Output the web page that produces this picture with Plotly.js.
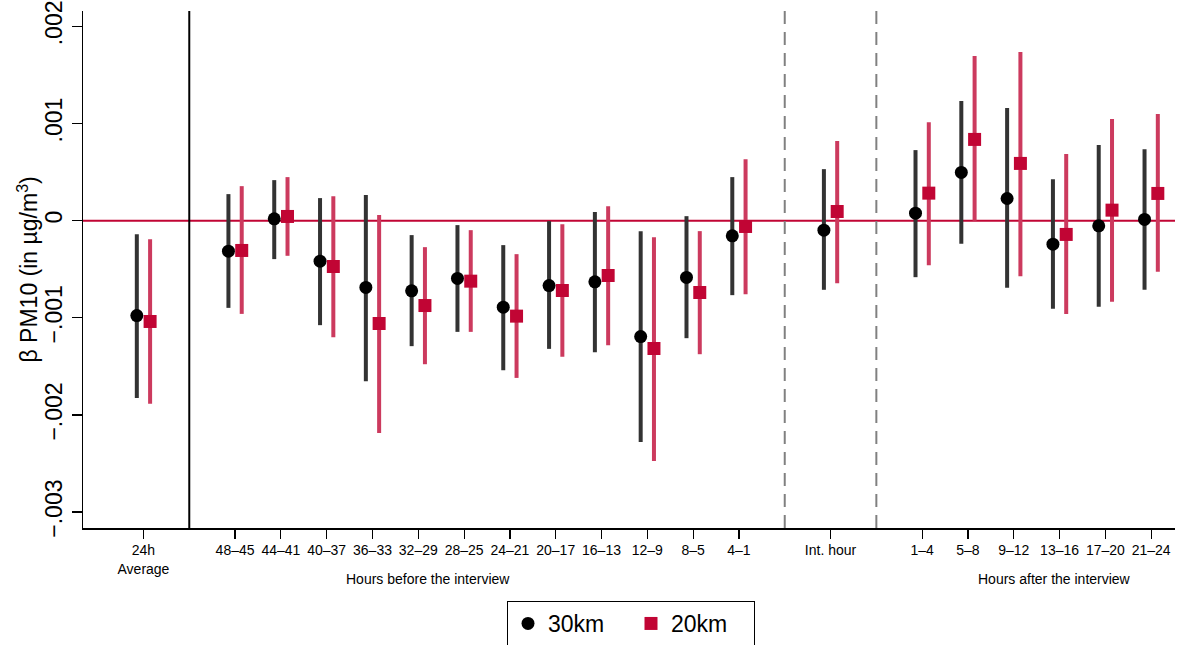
<!DOCTYPE html>
<html><head><meta charset="utf-8">
<script src="https://cdn.plot.ly/plotly-3.0.1.min.js"></script>
<style>html,body{margin:0;padding:0;background:#fff}#chart{width:1180px;height:645px}</style>
</head><body><div id="chart"></div>
<script>
// ---- data ----
const catAverage = ["24h<br>Average"];
const catBefore = ["48–45","44–41","40–37","36–33","32–29","28–25","24–21","20–17","16–13","12–9","8–5","4–1"];
const catInt = ["Int. hour"];
const catAfter = ["1–4","5–8","9–12","13–16","17–20","21–24"];

const est30 = [-0.000977,-0.000314,0.000019,-0.000417,-0.000688,-0.000723,-0.000595,-0.000891,-0.000668,-0.000630,-0.001193,-0.000585,-0.000156,-0.000098,0.000077,0.000496,0.000228,-0.000242,-0.000053,0.000012];
const lo30  = [-0.001825,-0.000898,-0.000396,-0.001076,-0.001653,-0.001292,-0.001145,-0.001540,-0.001320,-0.001354,-0.002278,-0.001210,-0.000767,-0.000712,-0.000582,-0.000239,-0.000692,-0.000908,-0.000887,-0.000712];
const hi30  = [-0.000139,0.000273,0.000417,0.000232,0.000263,-0.000149,-0.000046,-0.000252,-0.000005,0.000088,-0.000108,0.000046,0.000448,0.000530,0.000726,0.001231,0.001159,0.000427,0.000778,0.000736];

const est20 = [-0.001038,-0.000307,0.000043,-0.000472,-0.001059,-0.000874,-0.000623,-0.000983,-0.000719,-0.000565,-0.001316,-0.000740,-0.000060,0.000094,0.000283,0.000836,0.000589,-0.000142,0.000108,0.000280];
const lo20  = [-0.001886,-0.000960,-0.000362,-0.001200,-0.002185,-0.001478,-0.001145,-0.001619,-0.001402,-0.001282,-0.002474,-0.001375,-0.000757,-0.000644,-0.000458,-0.000002,-0.000572,-0.000960,-0.000836,-0.000527];
const hi20  = [-0.000191,0.000355,0.000448,0.000252,0.000057,-0.000273,-0.000098,-0.000345,-0.000036,0.000149,-0.000170,-0.000108,0.000633,0.000819,0.001014,0.001694,0.001735,0.000685,0.001045,0.001097];

const yTickVals = [-0.003,-0.002,-0.001,0,0.001,0.002];
const yTickText = ["−.003","−.002","−.001","0",".001",".002"];
const seriesNames = ["30km","20km"];
const yTitle = "β PM10 (in µg/m<sup>3</sup>)";

// ---- layout of category slots (one empty slot between groups) ----
const groups = [catAverage, catBefore, catInt, catAfter];
const pos = [], labels = [], seps = [];
let p = 0;
groups.forEach((g, gi) => {
  if (gi > 0) { seps.push(p); p++; }
  g.forEach(c => { pos.push(p); labels.push(c); p++; });
});
const off = 0.145;

function series(est, lo, hi, shift, name, mColor, eColor, symbol) {
  return {
    type: "scatter", mode: "markers", name: name,
    x: pos.map(v => v + shift), y: est,
    marker: {color: mColor, size: 13, symbol: symbol},
    error_y: {type: "data", symmetric: false,
      array: hi.map((h, i) => h - est[i]),
      arrayminus: lo.map((l, i) => est[i] - l),
      color: eColor, thickness: 4, width: 0},
    hoverinfo: "skip"
  };
}

const traces = [
  series(est30, lo30, hi30, -off, seriesNames[0], "#000000", "#333333", "circle"),
  series(est20, lo20, hi20, off, seriesNames[1], "#c10534", "#cc3a5e", "square")
];

const shapes = [{type: "line", xref: "paper", x0: 0, x1: 1, yref: "y", y0: 0, y1: 0,
  line: {color: "#c10534", width: 2}, layer: "below"}];
seps.forEach((s, i) => {
  shapes.push({type: "line", xref: "x", x0: s, x1: s, yref: "paper", y0: 0, y1: 1,
    line: i === 0 ? {color: "#000000", width: 2} : {color: "#808080", width: 2, dash: "13px,8px"},
    layer: "below"});
});

const font = "Liberation Sans, Arial, Helvetica, sans-serif";
const layout = {
  width: 1180, height: 645,
  margin: {l: 83, r: 5, t: 11, b: 117, autoexpand: false},
  paper_bgcolor: "#fff", plot_bgcolor: "#fff",
  font: {family: font, color: "#000"},
  showlegend: true,
  legend: {orientation: "h", xref: "container", yref: "container",
    x: 507 / 1180, xanchor: "left", y: (645 - 601) / 645, yanchor: "top",
    entrywidth: 78, entrywidthmode: "pixels",
    bordercolor: "#000", borderwidth: 1, font: {size: 23, family: font}, itemsizing: "trace"},
  xaxis: {range: [-1.32, 22.52], showgrid: false, zeroline: false, automargin: false,
    showline: true, linecolor: "#000", linewidth: 1.5, mirror: false,
    tickmode: "array", tickvals: pos, ticktext: labels, tickangle: 0,
    ticks: "outside", ticklen: 9, tickcolor: "#000", tickwidth: 1.2,
    tickfont: {size: 14}},
  yaxis: {range: [-0.003164, 0.002158], showgrid: false, zeroline: false, automargin: false,
    showline: true, linecolor: "#000", linewidth: 1.5, mirror: false,
    tickmode: "array", tickvals: yTickVals, ticktext: yTickText, tickangle: -90,
    ticks: "outside", ticklen: 10, tickcolor: "#000", tickwidth: 1.2,
    tickfont: {size: 23}},
  shapes: shapes,
  annotations: [
    {text: yTitle, xref: "paper", yref: "paper", x: (27 - 83) / 1092, y: 0.5, textangle: -90,
      xanchor: "center", yanchor: "middle", showarrow: false, font: {size: 23}},
    {text: "Hours before the interview", xref: "paper", yref: "paper", x: 0.316, y: -0.099,
      xanchor: "center", yanchor: "middle", showarrow: false, font: {size: 14}},
    {text: "Hours after the interview", xref: "paper", yref: "paper", x: 0.890, y: -0.099,
      xanchor: "center", yanchor: "middle", showarrow: false, font: {size: 14}}
  ]
};
Plotly.newPlot("chart", traces, layout, {displayModeBar: false, staticPlot: true});
</script></body></html>
